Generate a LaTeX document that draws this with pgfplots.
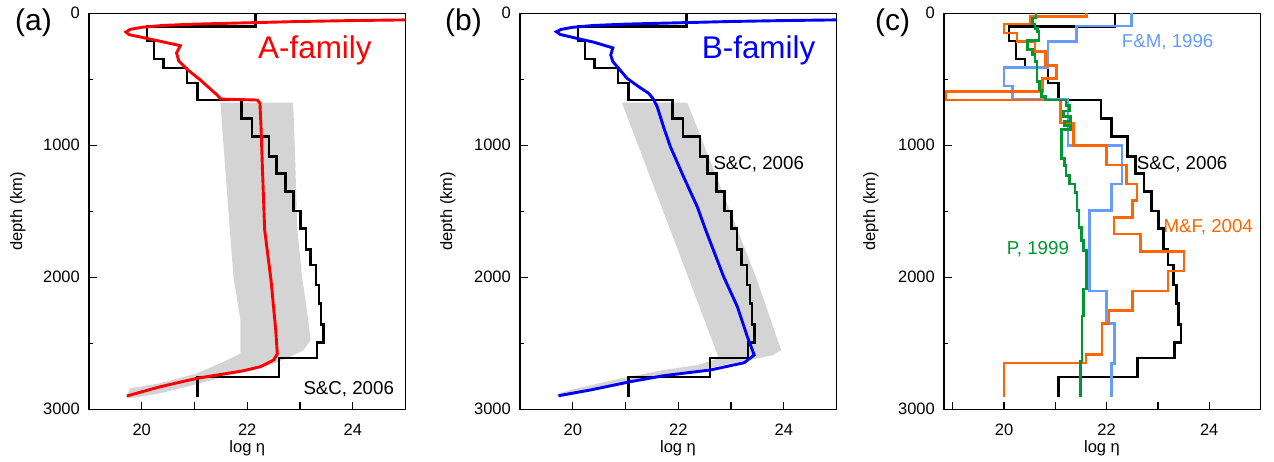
\documentclass[border=0pt]{standalone}
\usepackage{pgfplots}
\pgfplotsset{compat=1.18}
\usepackage{pgfplotstable}
\usepackage{fontspec}
\setmainfont{Liberation Sans}
\definecolor{bandgray}{RGB}{212,212,212}
\definecolor{fmblue}{RGB}{102,155,255}
\definecolor{mforange}{RGB}{255,102,0}
\definecolor{pgreen}{RGB}{0,150,50}
\definecolor{bblue}{RGB}{0,0,255}
\definecolor{ared}{RGB}{255,0,0}
\newcommand\tickfont{\fontsize{16.5}{19}\selectfont}
\newcommand\notefont{\fontsize{18.7}{22}\selectfont}
\newcommand\famfont{\fontsize{31.4}{36}\selectfont}
\newcommand\panfont{\fontsize{30}{34}\selectfont}

% S&C 2006 staircase
\pgfplotstableread{
x y
22.16 0
22.16 100
20.10 100
20.10 210
20.23 210
20.23 347
20.41 347
20.41 415
20.86 415
20.86 528
21.06 528
21.06 657
21.89 657
21.89 799
22.09 799
22.09 935
22.41 935
22.41 1086
22.56 1086
22.56 1212
22.73 1212
22.73 1351
22.88 1351
22.88 1498
23.01 1498
23.01 1629
23.11 1629
23.11 1788
23.20 1788
23.20 1907
23.30 1907
23.30 2058
23.36 2058
23.36 2197
23.40 2197
23.40 2356
23.45 2356
23.45 2493
23.32 2493
23.32 2612
22.60 2612
22.60 2755
21.06 2755
21.06 2905
}\sctab

% A-family (red)
\pgfplotstableread{
x y
26 45
25 50
24 55
23 62
22 72
21 82
20.4 92
20.0 106
19.78 122
19.70 142
19.76 162
20.0 182
20.35 212
20.73 245
20.70 270
20.66 300
20.70 360
20.86 424
21.11 505
21.43 619
21.50 650
22.19 657
22.24 680
22.26 850
22.29 1200
22.33 1640
22.45 2020
22.54 2400
22.57 2580
22.50 2627
22.25 2677
21.93 2708
21.05 2765
20.35 2829
19.72 2899
}\redA

\pgfplotstableread{
x y
21.49 677
22.87 677
22.90 1000
22.95 1640
23.04 2000
23.15 2300
23.20 2475
23.07 2551
22.82 2601
22.44 2664
21.93 2715
20.98 2816
20.35 2879
19.78 2917
19.70 2905
19.72 2892
19.78 2841
20.35 2803
21.05 2727
21.49 2652
21.87 2578
21.87 2323
21.74 2000
21.67 1642
21.55 1000
21.49 677
}\bandA

% B-family (blue)
\pgfplotstableread{
x y
26 45
25 50
24 55
23 62
22 72
21 82
20.4 92
20.0 106
19.78 122
19.69 140
19.76 160
20.08 190
20.39 218
20.76 262
20.72 316
20.76 366
20.87 417
21.03 493
21.25 556
21.44 606
21.52 645
21.60 707
21.72 859
21.85 1010
22.10 1238
22.36 1465
22.52 1642
22.86 1995
23.12 2222
23.31 2450
23.44 2589
23.25 2647
22.61 2702
21.73 2745
21.09 2791
20.33 2854
19.73 2897
}\blueB

\pgfplotstableread{
x y
20.93 676
22.17 676
23.47 1995
23.95 2550
23.80 2590
23.50 2614
23.00 2652
22.30 2712
21.50 2762
20.60 2830
20.00 2890
19.75 2912
19.70 2895
19.73 2880
19.95 2854
20.77 2778
21.73 2702
22.36 2665
22.77 2614
22.72 2560
21.85 1642
20.93 676
}\bandB

% M&F 2004 (orange)
\pgfplotstableread{
x y
21.61 0
21.61 22
20.51 22
20.51 81
20.00 81
20.00 150
20.25 150
20.25 213
20.60 213
20.60 289
20.81 289
20.81 395
21.02 395
21.02 492
20.75 492
20.75 593
18.87 593
18.87 656
21.10 656
21.10 830
21.36 830
21.36 1001
22.00 1001
22.00 1148
22.39 1148
22.39 1292
22.59 1292
22.59 1419
22.50 1419
22.50 1546
22.14 1546
22.14 1672
22.66 1672
22.66 1804
23.51 1804
23.51 1951
23.20 1951
23.20 2103
22.50 2103
22.50 2250
22.05 2250
22.05 2348
21.91 2348
21.91 2584
21.60 2584
21.60 2648
20.00 2648
20.00 2906
}\mfor

% F&M 1996 (light blue)
\pgfplotstableread{
x y
22.48 0
22.48 95
21.41 95
21.41 214
20.86 214
20.86 411
20.00 411
20.00 550
20.17 550
20.17 652
21.25 652
21.25 1001
22.30 1001
22.30 1292
22.09 1292
22.09 1495
21.67 1495
21.67 2103
22.00 2103
22.00 2348
22.15 2348
22.15 2655
22.09 2655
22.09 2906
}\fmb

% P 1999 (green)
\pgfplotstableread{
x y
20.62 0
20.62 36
20.55 36
20.55 81
20.60 81
20.60 117
20.65 117
20.65 137
20.68 137
20.68 205
20.46 205
20.46 276
20.55 276
20.55 314
20.60 314
20.60 365
20.64 365
20.64 517
20.69 517
20.69 580
20.73 580
20.73 631
20.81 631
20.81 656
21.21 656
21.21 700
21.28 700
21.28 740
21.16 740
21.16 780
21.30 780
21.30 820
21.18 820
21.18 850
21.30 850
21.30 880
21.12 880
21.12 1102
21.18 1102
21.18 1153
21.21 1153
21.21 1229
21.28 1229
21.28 1292
21.38 1292
21.38 1356
21.42 1356
21.42 1495
21.46 1495
21.46 1622
21.51 1622
21.51 1723
21.55 1723
21.55 1799
21.61 1799
21.61 2090
21.55 2090
21.55 2293
21.52 2293
21.52 2635
21.49 2635
21.49 2906
}\pgr

\pgfplotsset{
  panel/.style={
    scale only axis, width=316.5pt, height=396pt,
    xmax=25, ymin=0, ymax=3000, y dir=reverse,
    xtick={19,20,21,22,23,24,25}, xticklabels={,20,,22,,24,},
    ytick={0,1000,2000,3000}, yticklabels={0,1000,2000,3000},
    minor ytick={500,1500,2500},
    tick align=inside, tick pos=left,
    major tick length=7.5pt, minor tick length=3.5pt,
    axis line style={line width=1.3pt},
    every tick/.style={black, line width=1.3pt},
    ticklabel style={font=\tickfont, inner sep=0pt},
    xticklabel style={anchor=north, yshift=-14pt},
    yticklabel style={anchor=east, xshift=-9pt},
    no markers,
    anchor=south west,
  },
  sc/.style={black, line width=2.6pt},
  cl/.style={line width=2.6pt},
}

\begin{document}
\begin{tikzpicture}
\path[use as bounding box] (0pt,0pt) rectangle (1274pt,462pt);

% (a)
\begin{axis}[panel, xmin=19, at={(89pt,52.7pt)}]
\addplot[fill=bandgray, draw=none] table {\bandA};
\addplot[sc] table {\sctab};
\addplot[ared, line width=2.9pt] table {\redA};
\end{axis}

% (b)
\begin{axis}[panel, xmin=19, at={(520pt,52.7pt)}]
\addplot[fill=bandgray, draw=none] table {\bandB};
\addplot[sc] table {\sctab};
\addplot[bblue, line width=2.9pt] table {\blueB};
\end{axis}

% (c)
\begin{axis}[panel, xmin=18.83, at={(944pt,52.7pt)}]
\addplot[sc] table {\sctab};
\addplot[fmblue, cl] table {\fmb};
\addplot[mforange, cl] table {\mfor};
\addplot[pgreen, cl] table {\pgr};
\end{axis}

% panel letters
\node[anchor=base, font=\panfont, inner sep=0pt] at (33.5pt,431.6pt) {(a)};
\node[anchor=base, font=\panfont, inner sep=0pt] at (463.5pt,431.6pt) {(b)};
\node[anchor=base, font=\panfont, inner sep=0pt] at (892.5pt,431.6pt) {(c)};

% axis labels
\foreach \xx in {247.3,678,1102} {
  \node[anchor=base, font=\tickfont, inner sep=0pt] at (\xx pt,9.3pt) {log η};
}
\foreach \xx in {22,452,875} {
  \node[rotate=90, anchor=base, font=\tickfont, inner sep=0pt] at (\xx pt,250.7pt) {depth (km)};
}

% annotations
\node[anchor=base west, font=\famfont, text=ared, inner sep=0pt] at (258pt,403.7pt) {A-family};
\node[anchor=base west, font=\famfont, text=bblue, inner sep=0pt] at (701.7pt,403.7pt) {B-family};
\node[anchor=base west, font=\notefont, inner sep=0pt] at (303.3pt,67pt) {S\&C, 2006};
\node[anchor=base west, font=\notefont, inner sep=0pt] at (713.3pt,292.7pt) {S\&C, 2006};
\node[anchor=base west, font=\notefont, inner sep=0pt] at (1136.7pt,292.3pt) {S\&C, 2006};
\node[anchor=base west, font=\notefont, text=fmblue, inner sep=0pt] at (1121.7pt,414.7pt) {F\&M, 1996};
\node[anchor=base west, font=\notefont, text=mforange, inner sep=0pt] at (1163.3pt,229pt) {M\&F, 2004};
\node[anchor=base west, font=\notefont, text=pgreen, inner sep=0pt] at (1006.7pt,207pt) {P, 1999};
\end{tikzpicture}
\end{document}
